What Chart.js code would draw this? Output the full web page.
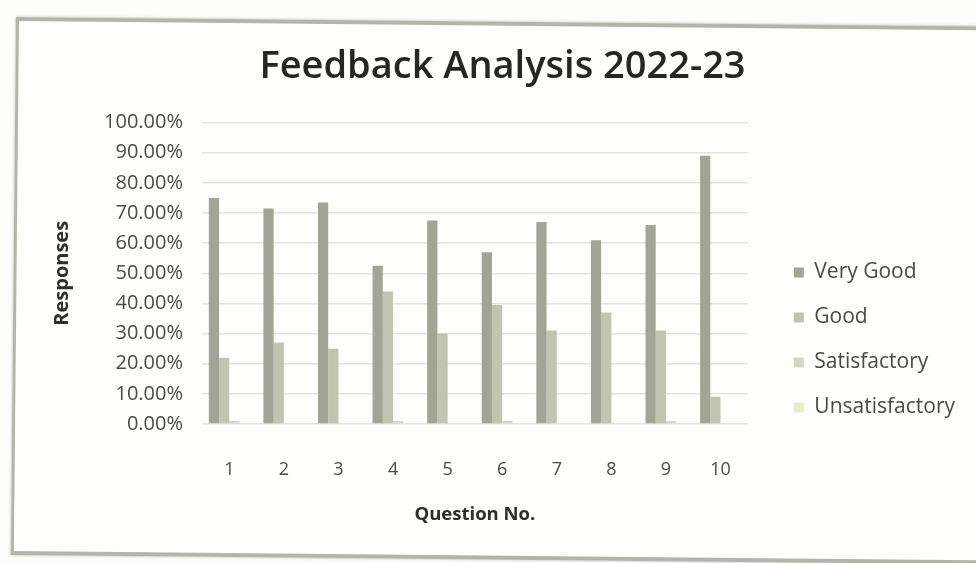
<!DOCTYPE html>
<html>
<head>
<meta charset="utf-8">
<script src="https://cdn.jsdelivr.net/npm/chart.js@4"></script>
<style>
    html, body { margin: 0; padding: 0; background: #fdfdfb; }
    #wrap { position: relative; width: 976px; height: 563px; overflow: hidden; }
    #frame {
        position: absolute; left: 16px; top: 17px; width: 990px; height: 530px;
        border-left: 3px solid #b4b4ab; border-top: 4px solid #b4b4ab; border-bottom: 4px solid #b4b4ab;
        box-shadow: 0 0 3px rgba(120,120,110,0.5);
        background: #fefefd;
        transform: rotate(0.55deg); transform-origin: 0 0;
    }
    #chart { position: absolute; left: 0; top: 0; }
</style>
</head>
<body>
<div id="wrap">
    <div id="frame"></div>
    <canvas id="chart" width="976" height="563"></canvas>
</div>
<script>
// Question numbers on the x axis
const questions = ['1', '2', '3', '4', '5', '6', '7', '8', '9', '10'];

// Share of responses per question (%)
const veryGood = [75, 71.5, 73.5, 52.5, 67.5, 57, 67, 61, 66, 89];
const good = [22, 27, 25, 44, 30, 39.5, 31, 37, 31, 9];
const satisfactory = [1, 0, 0, 1, 0, 1, 0, 0, 1, 0];
const unsatisfactory = [0, 0, 0, 0, 0, 0, 0, 0, 0, 0];

const seriesNames = ['Very Good', 'Good', 'Satisfactory', 'Unsatisfactory'];
const seriesColors = ['#a2a595', '#c2c4b2', '#d5d7c5', '#ece9cb'];

const textColor = '#4a4a48';
const fontFamily = "'Open Sans', 'Noto Sans', sans-serif";

const ctx = document.getElementById('chart');

new Chart(ctx, {
    type: 'bar',
    data: {
        labels: questions,
        datasets: [veryGood, good, satisfactory, unsatisfactory].map((values, i) => ({
            label: seriesNames[i],
            data: values,
            backgroundColor: seriesColors[i],
            borderWidth: 0,
            categoryPercentage: 0.75,
            barPercentage: 1
        }))
    },
    options: {
        responsive: false,
        animation: false,
        layout: {
            padding: { left: 40, right: 11, top: 44, bottom: 37 }
        },
        scales: {
            x: {
                grid: { display: false, drawTicks: false },
                border: { display: false },
                ticks: {
                    color: textColor,
                    font: { family: fontFamily, size: 18 },
                    padding: 35
                },
                title: {
                    display: true,
                    text: 'Question No.',
                    color: '#2e2e2c',
                    font: { family: fontFamily, size: 18.5, weight: 'bold' },
                    padding: { top: 24, bottom: 0 }
                },
                afterFit: (scale) => { scale.height = 102; }
            },
            y: {
                min: 0,
                max: 100,
                grid: { color: '#e4e4da', lineWidth: 1.5, drawTicks: false },
                border: { display: false },
                ticks: {
                    stepSize: 10,
                    autoSkip: false,
                    color: textColor,
                    font: { family: fontFamily, size: 20 },
                    padding: 19,
                    callback: (value) => value.toFixed(2) + '%'
                },
                title: {
                    display: true,
                    text: 'Responses',
                    color: '#2e2e2c',
                    font: { family: fontFamily, size: 20, weight: 'bold' },
                    padding: { top: 10, bottom: 31 }
                },
                afterFit: (scale) => { scale.width = 162; }
            },
            // empty spacer between the plot and the legend
            gap: {
                position: 'right',
                grid: { display: false, drawTicks: false },
                border: { display: false },
                ticks: { display: false },
                afterFit: (scale) => { scale.width = 22; }
            }
        },
        plugins: {
            title: {
                display: true,
                text: 'Feedback Analysis 2022-23',
                color: '#262624',
                font: { family: fontFamily, size: 38, weight: '600' },
                padding: { top: 0, bottom: 33 }
            },
            legend: {
                position: 'right',
                align: 'start',
                maxWidth: 300,
                title: {
                    display: true,
                    text: '',
                    font: { size: 10 },
                    padding: { top: 0, bottom: 182 }
                },
                labels: {
                    color: textColor,
                    font: { family: fontFamily, size: 21 },
                    boxWidth: 10,
                    boxHeight: 10,
                    padding: 24
                }
            },
            tooltip: { enabled: false }
        }
    }
});
</script>
</body>
</html>
